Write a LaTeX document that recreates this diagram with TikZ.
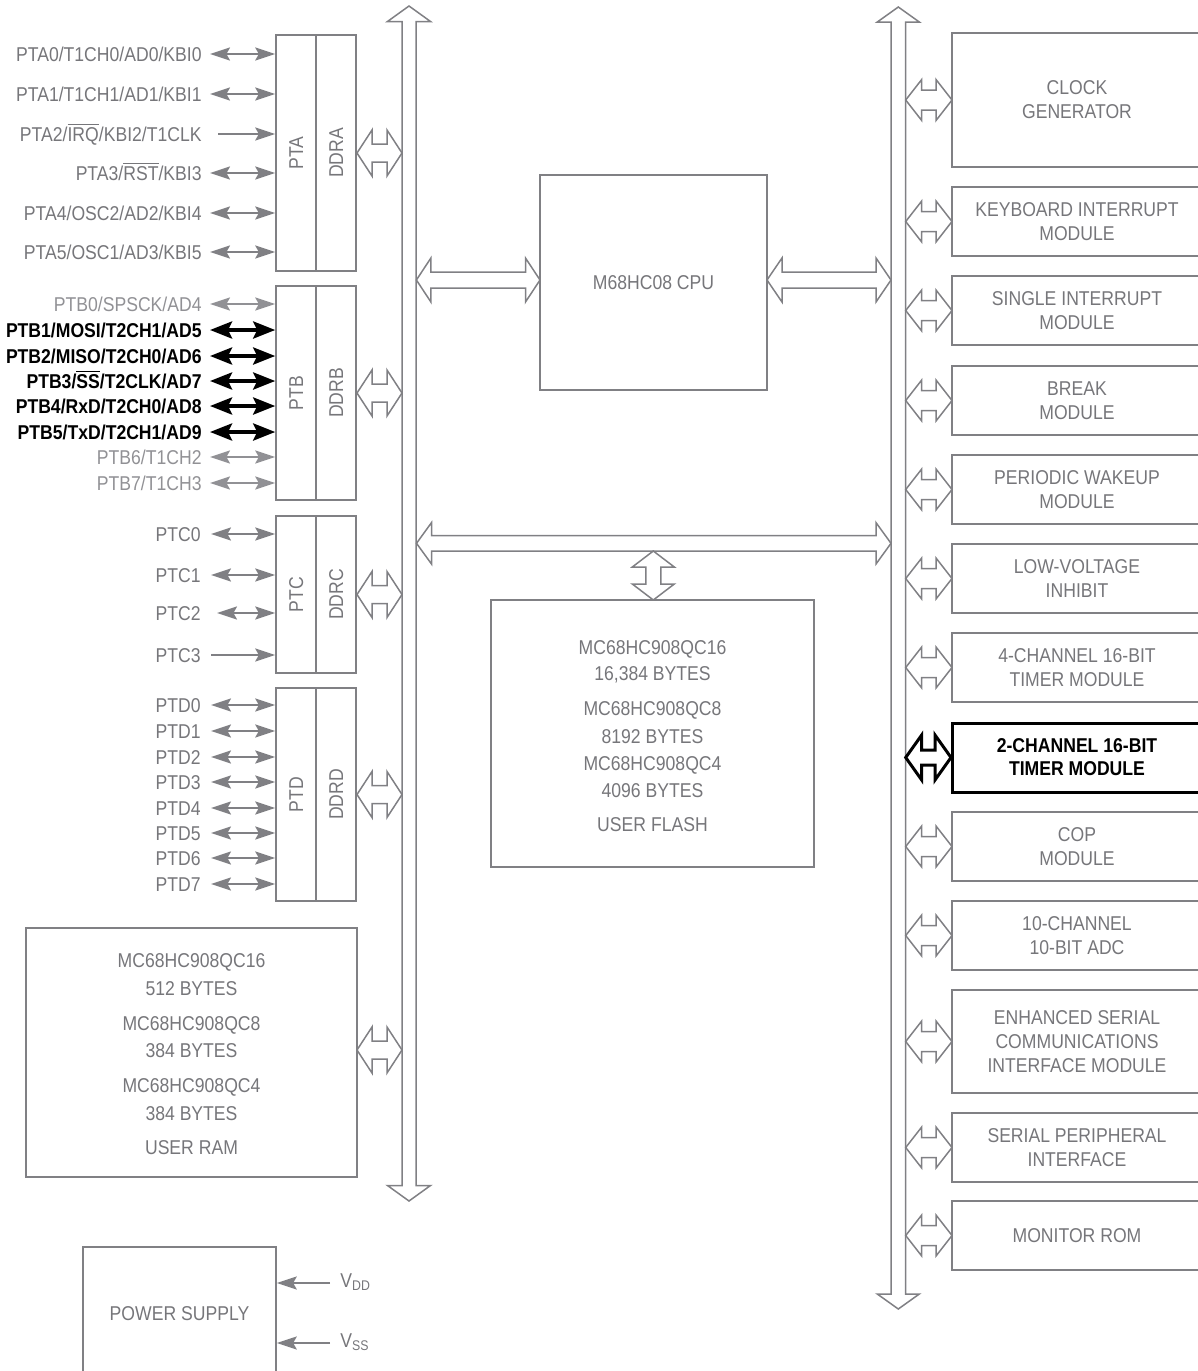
\documentclass[tikz,border=0pt]{standalone}
\usepackage{fontspec}
\setmainfont{Liberation Sans}[FakeStretch=0.88]
\usetikzlibrary{arrows.meta}
\definecolor{gtxt}{RGB}{118,118,122}
\definecolor{gtxtl}{RGB}{145,145,149}
\definecolor{gln}{RGB}{128,128,132}
% hollow double arrows: [opts]{xa}{xb}{y}{shaft half}{head half}{head length}
\newcommand{\dblH}[7][]{\draw[hollow,#1] (#2,#4) -- (#2+#7,#4-#6) -- (#2+#7,#4-#5) -- (#3-#7,#4-#5) -- (#3-#7,#4-#6) -- (#3,#4) -- (#3-#7,#4+#6) -- (#3-#7,#4+#5) -- (#2+#7,#4+#5) -- (#2+#7,#4+#6) -- cycle;}
% [opts]{x}{ya}{yb}{shaft half}{head half}{head length}
\newcommand{\dblV}[7][]{\draw[hollow,#1] (#2,#3) -- (#2+#6,#3+#7) -- (#2+#5,#3+#7) -- (#2+#5,#4-#7) -- (#2+#6,#4-#7) -- (#2,#4) -- (#2-#6,#4-#7) -- (#2-#5,#4-#7) -- (#2-#5,#3+#7) -- (#2-#6,#3+#7) -- cycle;}
\begin{document}
\begin{tikzpicture}[x=0.5pt,y=-0.5pt,
  hollow/.style={draw=gln,line width=0.75pt,line join=miter},
  box/.style={draw=gln,line width=0.75pt,inner sep=0pt,text=gtxt,font=\fontsize{10}{12}\selectfont,align=center},
  mod/.style={box,minimum width=125pt,minimum height=34.5pt},
  boldmod/.style={mod,draw=black,line width=1.5pt,text=black,font=\fontsize{10}{11.5}\selectfont\bfseries},
  lbl/.style={text=gtxt,inner sep=0pt,text height=7.2pt,text depth=0pt,font=\fontsize{10}{12}\selectfont},
  lbll/.style={lbl,text=gtxtl},
  blbl/.style={lbl,text=black,font=\fontsize{10}{12}\selectfont\bfseries},
  vlbl/.style={lbl,rotate=90},
  pinb/.style={draw=gln,line width=1.1pt,>={Stealth[length=10pt,width=6.5pt,inset=1.8pt]},<->},
  pinbl/.style={pinb,draw=gtxtl,fill=gtxtl},
  pini/.style={draw=gln,line width=1.1pt,>={Stealth[length=10pt,width=6.5pt,inset=1.8pt]},->},
  pinbold/.style={draw=black,line width=1.9pt,>={Stealth[length=11pt,width=8.5pt,inset=2pt]},<->}
]
\useasboundingbox (0,0) rectangle (1198,1371);

% ---------- port boxes ----------
\node[box,minimum width=20pt,minimum height=118pt] (pta) at (296,153) {};
\node[box,minimum width=20pt,minimum height=118pt] (ddra) at (336,153) {};
\node[box,minimum width=20pt,minimum height=107pt] (ptb) at (296,393) {};
\node[box,minimum width=20pt,minimum height=107pt] (ddrb) at (336,393) {};
\node[box,minimum width=20pt,minimum height=78.5pt] (ptc) at (296,594.5) {};
\node[box,minimum width=20pt,minimum height=78.5pt] (ddrc) at (336,594.5) {};
\node[box,minimum width=20pt,minimum height=106.5pt] (ptd) at (296,794.5) {};
\node[box,minimum width=20pt,minimum height=106.5pt] (ddrd) at (336,794.5) {};
\node[vlbl] (ptat) at (pta) {PTA};
\node[vlbl] (ddrat) at (ddra) {DDRA};
\node[vlbl] (ptbt) at (ptb) {PTB};
\node[vlbl] (ddrbt) at (ddrb) {DDRB};
\node[vlbl] (ptct) at (ptc) {PTC};
\node[vlbl] (ddrct) at (ddrc) {DDRC};
\node[vlbl] (ptdt) at (ptd) {PTD};
\node[vlbl] (ddrdt) at (ddrd) {DDRD};

% ---------- PTA pins ----------
\node[lbl,anchor=east] (a0) at (202,54) {PTA0/T1CH0/AD0/KBI0};
\node[lbl,anchor=east] (a1) at (202,94) {PTA1/T1CH1/AD1/KBI1};
\node[lbl,anchor=east] (a2) at (202,134) {PTA2/$\overline{\mbox{IRQ}}$/KBI2/T1CLK};
\node[lbl,anchor=east] (a3) at (202,173) {PTA3/$\overline{\mbox{RST}}$/KBI3};
\node[lbl,anchor=east] (a4) at (202,213) {PTA4/OSC2/AD2/KBI4};
\node[lbl,anchor=east] (a5) at (202,252) {PTA5/OSC1/AD3/KBI5};
\draw[pinb] ([xshift=4pt]a0.east) -- (a0.east -| pta.west);
\draw[pinb] ([xshift=4pt]a1.east) -- (a1.east -| pta.west);
\draw[pini] ([xshift=8pt]a2.east) -- (a2.east -| pta.west);
\draw[pinb] ([xshift=4pt]a3.east) -- (a3.east -| pta.west);
\draw[pinb] ([xshift=4pt]a4.east) -- (a4.east -| pta.west);
\draw[pinb] ([xshift=4pt]a5.east) -- (a5.east -| pta.west);

% ---------- PTB pins ----------
\node[lbll,anchor=east] (b0) at (202,304) {PTB0/SPSCK/AD4};
\node[blbl,anchor=east] (b1) at (202,330) {PTB1/MOSI/T2CH1/AD5};
\node[blbl,anchor=east] (b2) at (202,356) {PTB2/MISO/T2CH0/AD6};
\node[blbl,anchor=east] (b3) at (202,381) {PTB3/$\overline{\mbox{SS}}$/T2CLK/AD7};
\node[blbl,anchor=east] (b4) at (202,406) {PTB4/RxD/T2CH0/AD8};
\node[blbl,anchor=east] (b5) at (202,432) {PTB5/TxD/T2CH1/AD9};
\node[lbll,anchor=east] (b6) at (202,457) {PTB6/T1CH2};
\node[lbll,anchor=east] (b7) at (202,483) {PTB7/T1CH3};
\draw[pinbl] ([xshift=4pt]b0.east) -- (b0.east -| ptb.west);
\draw[pinbold] ([xshift=4pt]b1.east) -- (b1.east -| ptb.west);
\draw[pinbold] ([xshift=4pt]b2.east) -- (b2.east -| ptb.west);
\draw[pinbold] ([xshift=4pt]b3.east) -- (b3.east -| ptb.west);
\draw[pinbold] ([xshift=4pt]b4.east) -- (b4.east -| ptb.west);
\draw[pinbold] ([xshift=4pt]b5.east) -- (b5.east -| ptb.west);
\draw[pinbl] ([xshift=4pt]b6.east) -- (b6.east -| ptb.west);
\draw[pinbl] ([xshift=4pt]b7.east) -- (b7.east -| ptb.west);

% ---------- PTC pins ----------
\node[lbl,anchor=east] (c0) at (201,534) {PTC0};
\node[lbl,anchor=east] (c1) at (201,575) {PTC1};
\node[lbl,anchor=east] (c2) at (201,613) {PTC2};
\node[lbl,anchor=east] (c3) at (201,655) {PTC3};
\draw[pinb] ([xshift=5pt]c0.east) -- (c0.east -| ptc.west);
\draw[pinb] ([xshift=5pt]c1.east) -- (c1.east -| ptc.west);
\draw[pinb] ([xshift=8pt]c2.east) -- (c2.east -| ptc.west);
\draw[pini] ([xshift=5pt]c3.east) -- (c3.east -| ptc.west);

% ---------- PTD pins ----------
\foreach \i/\yy in {0/705,1/731,2/757,3/782,4/808,5/833,6/858,7/884}{
  \node[lbl,anchor=east] (d\i) at (201,\yy) {PTD\i};
  \draw[pinb] ([xshift=5pt]d\i.east) -- (d\i.east -| ptd.west);
}

% ---------- buses ----------
\dblV{409}{6}{1201}{7}{21.5}{15.5}
\dblV{898.3}{7}{1309}{7.3}{21}{15}
\dblH{416.5}{891}{543.3}{7.7}{20.7}{15}

% ---------- CPU ----------
\node[box,minimum width=113.5pt,minimum height=107.5pt] (cpu) at (653.5,282.5) {M68HC08 CPU};
\dblH{416.4}{540}{280}{8}{22}{14.5}
\dblH{767}{891}{280}{8}{22}{15}

% ---------- flash ----------
\node[box,minimum width=161.5pt,minimum height=133.5pt] (flash) at (652.5,733.5) {};
\dblV{653.3}{551}{600}{7.5}{21}{16}
\node[lbl] (f1) at (652.5,647) {MC68HC908QC16};
\node[lbl] (f2) at (652.5,673) {16,384 BYTES};
\node[lbl] (f3) at (652.5,708) {MC68HC908QC8};
\node[lbl] (f4) at (652.5,736) {8192 BYTES};
\node[lbl] (f5) at (652.5,763) {MC68HC908QC4};
\node[lbl] (f6) at (652.5,790) {4096 BYTES};
\node[lbl] (f7) at (652.5,824) {USER FLASH};

% ---------- RAM ----------
\node[box,minimum width=165.5pt,minimum height=124.5pt] (ram) at (191.5,1052.5) {};
\node[lbl] (r1) at (191.5,960) {MC68HC908QC16};
\node[lbl] (r2) at (191.5,988) {512 BYTES};
\node[lbl] (r3) at (191.5,1023) {MC68HC908QC8};
\node[lbl] (r4) at (191.5,1050) {384 BYTES};
\node[lbl] (r5) at (191.5,1085) {MC68HC908QC4};
\node[lbl] (r6) at (191.5,1113) {384 BYTES};
\node[lbl] (r7) at (191.5,1147) {USER RAM};

% ---------- port / RAM to left bus ----------
\dblH{357}{402}{153}{9}{23}{15}
\dblH{357}{402}{393}{9}{23}{15}
\dblH{357}{402}{594.5}{9}{23}{15}
\dblH{357}{402}{794.5}{9}{23}{15}
\dblH{357}{402}{1050}{9}{23}{15}

% ---------- power supply ----------
\node[box,minimum width=96.5pt,minimum height=66.5pt] (ps) at (179.5,1313.5) {POWER SUPPLY};
\node[lbl,anchor=base west,text height=,text depth=] (vdd) at (340,1287) {V\textsubscript{DD}};
\node[lbl,anchor=base west,text height=,text depth=] (vss) at (340,1347) {V\textsubscript{SS}};
\coordinate (vddc) at (330,1283);
\coordinate (vssc) at (330,1343);
\draw[pini] (vddc) -- (vddc -| ps.east);
\draw[pini] (vssc) -- (vssc -| ps.east);

% ---------- right modules ----------
\node[mod,minimum height=67pt] (clk) at (1077,100) {CLOCK\\GENERATOR};
\node[mod] (kbi) at (1077,221.5) {KEYBOARD INTERRUPT\\MODULE};
\node[mod] (sim) at (1077,310.5) {SINGLE INTERRUPT\\MODULE};
\node[mod] (brk) at (1077,400.5) {BREAK\\MODULE};
\node[mod] (pwu) at (1077,489.5) {PERIODIC WAKEUP\\MODULE};
\node[mod] (lvi) at (1077,578.5) {LOW-VOLTAGE\\INHIBIT};
\node[mod] (tim1) at (1077,667.5) {4-CHANNEL 16-BIT\\TIMER MODULE};
\node[boldmod] (tim2) at (1077,757.5) {2-CHANNEL 16-BIT\\TIMER MODULE};
\node[mod] (cop) at (1077,846.5) {COP\\MODULE};
\node[mod] (adc) at (1077,935.5) {10-CHANNEL\\10-BIT ADC};
\node[mod,minimum height=51.5pt] (esci) at (1077,1041.5) {ENHANCED SERIAL\\COMMUNICATIONS\\INTERFACE MODULE};
\node[mod] (spi) at (1077,1147.5) {SERIAL PERIPHERAL\\INTERFACE};
\node[mod] (mon) at (1077,1235.5) {MONITOR ROM};

\dblH{905.7}{952}{100}{10}{20.5}{16}
\dblH{905.7}{952}{221.5}{10}{20.5}{16}
\dblH{905.7}{952}{310.5}{10}{20.5}{16}
\dblH{905.7}{952}{400.5}{10}{20.5}{16}
\dblH{905.7}{952}{489.5}{10}{20.5}{16}
\dblH{905.7}{952}{578.5}{10}{20.5}{16}
\dblH{905.7}{952}{667.5}{10}{20.5}{16}
\dblH[draw=black,line width=1.5pt]{905.7}{951}{757.5}{7.5}{22.5}{16}
\dblH{905.7}{952}{846.5}{10}{20.5}{16}
\dblH{905.7}{952}{935.5}{10}{20.5}{16}
\dblH{905.7}{952}{1041.5}{10}{20.5}{16}
\dblH{905.7}{952}{1147.5}{10}{20.5}{16}
\dblH{905.7}{952}{1235.5}{10}{20.5}{16}
\end{tikzpicture}
\end{document}
